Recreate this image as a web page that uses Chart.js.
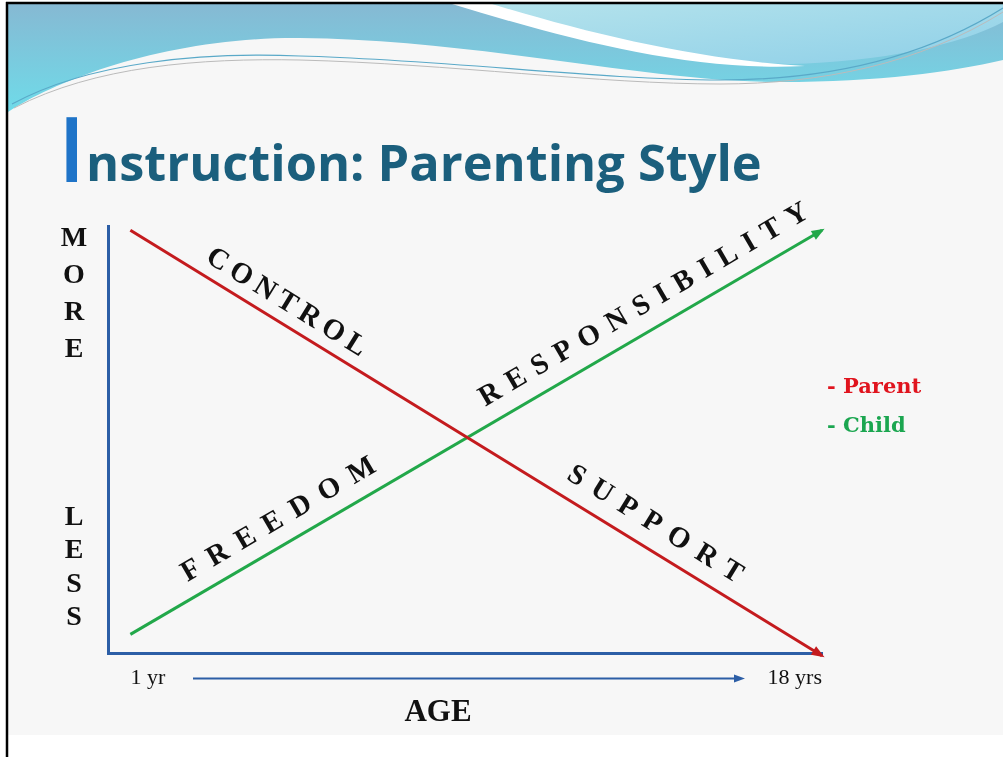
<!DOCTYPE html>
<html>
<head>
<meta charset="utf-8">
<script src="https://cdn.jsdelivr.net/npm/chart.js@4.4.1/dist/chart.umd.min.js"></script>
<style>
html, body { margin: 0; padding: 0; background: #fff; }
#stage { position: relative; width: 1003px; height: 757px; overflow: hidden; }
#bg, #chart { position: absolute; left: 0; top: 0; }
.title { position: absolute; font-family: "Open Sans", sans-serif; font-weight: 700; line-height: 1; white-space: nowrap; }
#titleCap { left: 58px; top: 102px; font-size: 90px; font-weight: 600; color: #1f74c8; }
#titleRest { left: 86px; top: 137px; font-size: 50.5px; color: #1b5f7d; }
</style>
</head>
<body>
<div id="stage">
  <svg id="bg" width="1003" height="757" viewBox="0 0 1003 757">
    <defs>
      <linearGradient id="g1" x1="0" y1="0" x2="0" y2="1">
        <stop offset="0" stop-color="#86b9d3"/><stop offset="1" stop-color="#6fdbe9"/>
      </linearGradient>
      <linearGradient id="g2" x1="0" y1="0" x2="1" y2="1">
        <stop offset="0" stop-color="#b5e3ec"/><stop offset="1" stop-color="#8fd0e8"/>
      </linearGradient>
    </defs>
    <rect x="0" y="0" width="1003" height="757" fill="#fff"/>
    <rect x="8" y="4" width="995" height="731" fill="#f7f7f7"/>
    <path d="M8 4 H1003 V60 C950 72 880 82 780 82 C650 82 480 40 300 38 C170 37 60 78 8 112 Z" fill="url(#g1)"/>
    <path d="M470 4 H1003 V22 C960 45 880 62 790 64 C690 62 580 30 470 4 Z" fill="url(#g2)"/>
    <path d="M452 4 L492 4 C590 34 700 60 805 66 C690 72 570 40 452 4 Z" fill="#fff"/>
    <path d="M12 104 C90 62 200 52 300 56 C450 60 600 80 720 80 C820 80 920 60 1003 8" stroke="#5aa9c8" stroke-width="1.2" fill="none"/>
    <path d="M14 108 C95 66 200 58 300 60 C450 64 600 84 720 84 C820 84 920 64 1003 12" stroke="#bbbbbb" stroke-width="1" fill="none"/>
    <line x1="7" y1="2" x2="7" y2="757" stroke="#000" stroke-width="2.5"/>
    <line x1="6" y1="3" x2="1003" y2="3" stroke="#000" stroke-width="2.5"/>
  </svg>
  <span class="title" id="titleCap">I</span>
  <span class="title" id="titleRest">nstruction: Parenting Style</span>
  <canvas id="chart" width="1003" height="757"></canvas>
</div>
<script>
// Chart values
const ages = [1, 18];
const ageLabels = ['1 yr', '18 yrs'];
const parentLevel = [9.9, -0.05];
const childLevel = [0.45, 9.9];
const parentWords = ['CONTROL', 'SUPPORT'];
const childWords = ['FREEDOM', 'RESPONSIBILITY'];
const moreLetters = ['M', 'O', 'R', 'E'];
const lessLetters = ['L', 'E', 'S', 'S'];

const axisBlue = '#2c5ea6';
const legendColors = ['#e0141e', '#1ba650'];

// where each word sits along its line: [fraction of line, perpendicular offset, letter spacing]
const wordPlacement = {
    CONTROL: [0.21, -20, 6],
    SUPPORT: [0.74, -24, 11],
    FREEDOM: [0.232, -24, 12],
    RESPONSIBILITY: [0.761, -25, 10]
};

function drawAlong(ctx, p0, p1, text) {
    const [t, off, spacing] = wordPlacement[text];
    const x = p0.x + (p1.x - p0.x) * t;
    const y = p0.y + (p1.y - p0.y) * t;
    ctx.save();
    ctx.translate(x, y);
    ctx.rotate(Math.atan2(p1.y - p0.y, p1.x - p0.x));
    ctx.font = 'bold 29px "Liberation Serif"';
    ctx.letterSpacing = spacing + 'px';
    ctx.fillStyle = '#111';
    ctx.textAlign = 'center';
    ctx.textBaseline = 'middle';
    ctx.fillText(text, spacing / 2, off);
    ctx.restore();
}

function arrowHead(ctx, x, y, ang, color, len, half) {
    ctx.save();
    ctx.translate(x, y);
    ctx.rotate(ang);
    ctx.fillStyle = color;
    ctx.beginPath();
    ctx.moveTo(3, 0);
    ctx.lineTo(-len, -half);
    ctx.lineTo(-len, half);
    ctx.closePath();
    ctx.fill();
    ctx.restore();
}

const slideDecor = {
    id: 'slideDecor',
    afterDatasetsDraw(chart) {
        const ctx = chart.ctx;
        const area = chart.chartArea;
        const words = [parentWords, childWords];

        chart.data.datasets.forEach((ds, i) => {
            const pts = chart.getDatasetMeta(i).data;
            const a = pts[0], b = pts[pts.length - 1];
            arrowHead(ctx, b.x, b.y, Math.atan2(b.y - a.y, b.x - a.x), ds.borderColor, 10, 5);
            words[i].forEach(w => drawAlong(ctx, a, b, w));

            // legend
            ctx.save();
            ctx.font = 'bold 21px "DejaVu Serif"';
            ctx.fillStyle = legendColors[i];
            ctx.textAlign = 'left';
            ctx.textBaseline = 'middle';
            ctx.fillText('- ' + ds.label, area.right + 5, area.top + 162 + i * 39);
            ctx.restore();
        });

        // stacked y-axis words
        ctx.save();
        ctx.font = 'bold 28px "Liberation Serif"';
        ctx.fillStyle = '#111';
        ctx.textAlign = 'center';
        ctx.textBaseline = 'middle';
        moreLetters.forEach((c, i) => ctx.fillText(c, area.left - 34, area.top + 13 + i * 37));
        lessLetters.forEach((c, i) => ctx.fillText(c, area.left - 34, area.bottom - 136 + i * 33.5));

        // age arrow and axis name
        const ay = area.bottom + 25;
        const ax0 = area.left + 85, ax1 = area.right - 77;
        ctx.strokeStyle = axisBlue;
        ctx.lineWidth = 2;
        ctx.beginPath();
        ctx.moveTo(ax0, ay);
        ctx.lineTo(ax1 - 6, ay);
        ctx.stroke();
        arrowHead(ctx, ax1 - 3, ay, 0, axisBlue, 8, 4);

        ctx.font = 'bold 31px "Liberation Serif"';
        ctx.fillStyle = '#111';
        ctx.fillText('AGE', area.left + 330, area.bottom + 59);
        ctx.restore();
    }
};

new Chart(document.getElementById('chart'), {
    type: 'line',
    data: {
        datasets: [{
            label: 'Parent',
            data: ages.map((a, i) => ({ x: a, y: parentLevel[i] })),
            borderColor: '#c41b1e',
            borderWidth: 3,
            pointRadius: 0,
            clip: false
        }, {
            label: 'Child',
            data: ages.map((a, i) => ({ x: a, y: childLevel[i] })),
            borderColor: '#22a84a',
            borderWidth: 3,
            pointRadius: 0,
            clip: false
        }]
    },
    options: {
        responsive: false,
        animation: false,
        layout: { padding: { left: 108, top: 226, right: 181, bottom: 55 } },
        plugins: { legend: { display: false }, tooltip: { enabled: false } },
        scales: {
            x: {
                type: 'linear',
                min: 0.45,
                max: 18,
                afterBuildTicks: scale => { scale.ticks = ages.map(v => ({ value: v })); },
                ticks: {
                    autoSkip: false,
                    maxRotation: 0,
                    align: 'inner',
                    padding: 11,
                    color: '#111',
                    font: { family: 'Liberation Serif', size: 22 },
                    callback: v => ageLabels[ages.indexOf(v)]
                },
                grid: { display: false, drawTicks: false },
                border: { display: true, color: axisBlue, width: 3 }
            },
            y: {
                min: 0,
                max: 10,
                ticks: { display: false },
                grid: { display: false, drawTicks: false },
                border: { display: true, color: axisBlue, width: 3 }
            }
        }
    },
    plugins: [slideDecor]
});
</script>
</body>
</html>
